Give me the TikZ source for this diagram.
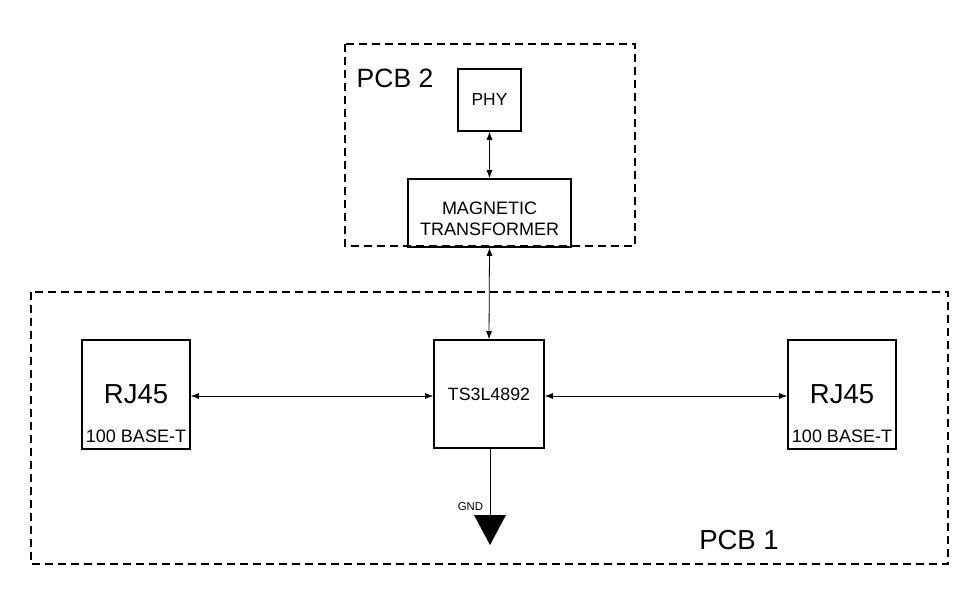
\documentclass[tikz,border=0pt]{standalone}
\usepackage{fontspec}
\setmainfont{Liberation Sans}
\usetikzlibrary{arrows.meta}
\begin{document}
\begin{tikzpicture}[x=1pt,y=-1pt,
  blk/.style={draw,line width=1.6pt,inner sep=0pt},
  pcb/.style={draw,line width=1.4pt,dash pattern=on 8pt off 5pt},
  conn/.style={line width=0.8pt,{Latex[length=8pt,width=6pt]}-{Latex[length=8pt,width=6pt]}},
  lbl/.style={inner sep=0pt,anchor=center}]
\useasboundingbox (0,0) rectangle (974,593);
% PCB outlines
\draw[pcb] (345,44) rectangle (635,246);
\draw[pcb] (31,292) rectangle (948,564);
\node[lbl,font=\fontsize{26.5}{26.5}\selectfont] (pcb2) at (395,78) {PCB 2};
\node[lbl,font=\fontsize{27.5}{27.5}\selectfont] (pcb1) at (739,540) {PCB 1};
% blocks
\node[blk,minimum width=63pt,minimum height=62pt] (phy) at (489.5,100) {};
\node[lbl,font=\fontsize{17.4}{17.4}\selectfont] at (phy) {PHY};
\node[blk,minimum width=163pt,minimum height=68pt] (mag) at (489.5,213) {};
\node[lbl,font=\fontsize{18}{21}\selectfont,align=center] at (489.5,219) {MAGNETIC\\TRANSFORMER};
\node[blk,minimum width=110pt,minimum height=108pt] (ts) at (489,394) {};
\node[lbl,font=\fontsize{17.8}{17.8}\selectfont] at (ts) {TS3L4892};
\node[blk,minimum width=108pt,minimum height=109pt] (rjl) at (136,394.5) {};
\node[lbl,font=\fontsize{27.5}{27.5}\selectfont] at (136,394) {RJ45};
\node[lbl,font=\fontsize{18}{18}\selectfont] at (136,436) {100 BASE-T};
\node[blk,minimum width=108pt,minimum height=109pt] (rjr) at (842,394.5) {};
\node[lbl,font=\fontsize{27.5}{27.5}\selectfont] at (842,394) {RJ45};
\node[lbl,font=\fontsize{18}{18}\selectfont] at (842,436) {100 BASE-T};
% connectors
\draw[conn] (phy.south) -- (mag.north);
\draw[conn] (mag.south) -- (ts.north);
\draw[conn] (rjl.east |- 0,396) -- (ts.west |- 0,396);
\draw[conn] (ts.east |- 0,396) -- (rjr.west |- 0,396);
% ground
\coordinate (gnd) at (490,515);
\draw[line width=1pt] (ts.south -| gnd) -- (gnd);
\fill (474,515) -- (506,515) -- (490,545) -- cycle;
\node[lbl,font=\fontsize{11.4}{11.4}\selectfont] (gndl) at (470.5,507) {GND};
\end{tikzpicture}
\end{document}
